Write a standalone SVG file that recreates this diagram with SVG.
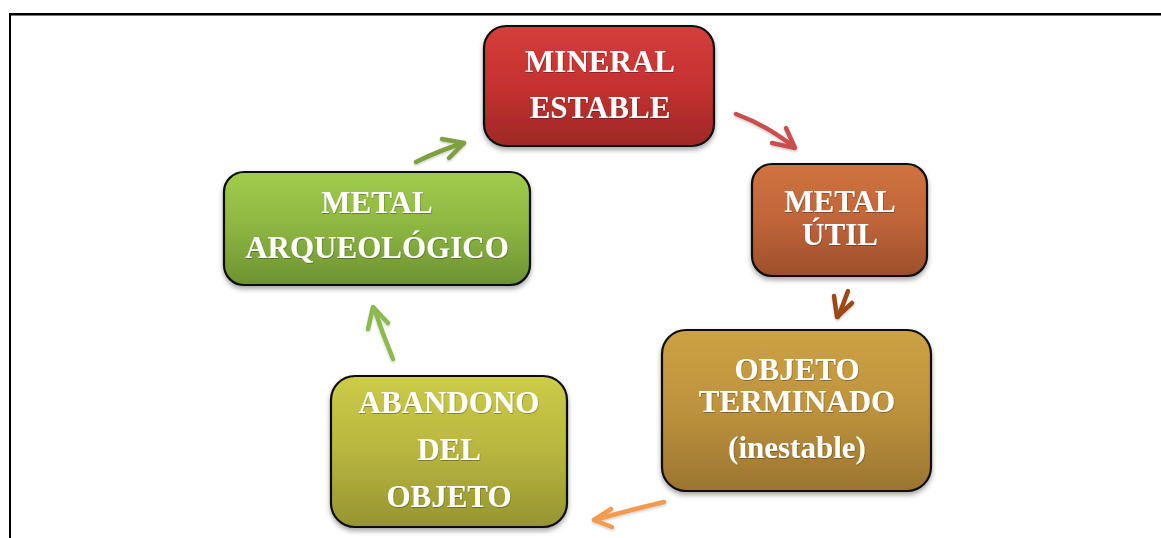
<svg xmlns="http://www.w3.org/2000/svg" width="1161" height="538" viewBox="0 0 1161 538">
<style>
.box{stroke:#111;stroke-width:2.2;filter:url(#sh)}
.t{font-family:"Liberation Serif","Times New Roman",serif;font-weight:bold;font-size:31px;fill:#fff;text-anchor:middle;filter:url(#tsh)}
.arr{fill:none;stroke-width:4.5;stroke-linecap:round;stroke-linejoin:round}
</style>
<defs>
<filter id="sh" x="-10%" y="-10%" width="120%" height="130%"><feDropShadow dx="0" dy="3" stdDeviation="2.5" flood-color="#000" flood-opacity="0.35"/></filter>
<filter id="tsh" x="-10%" y="-20%" width="120%" height="150%"><feDropShadow dx="0.6" dy="1" stdDeviation="0.6" flood-color="#000" flood-opacity="0.3"/></filter>
<filter id="ash" x="-20%" y="-20%" width="140%" height="150%"><feDropShadow dx="0" dy="1.5" stdDeviation="1" flood-color="#000" flood-opacity="0.2"/></filter>
<linearGradient id="gRed" x1="0" y1="0" x2="0" y2="1"><stop offset="0" stop-color="#d43e3b"/><stop offset="0.5" stop-color="#c5312f"/><stop offset="1" stop-color="#9e2827"/></linearGradient>
<linearGradient id="gOr" x1="0" y1="0" x2="0" y2="1"><stop offset="0" stop-color="#d0733f"/><stop offset="0.5" stop-color="#c0653a"/><stop offset="1" stop-color="#9c4f2a"/></linearGradient>
<linearGradient id="gGold" x1="0" y1="0" x2="0" y2="1"><stop offset="0" stop-color="#cda244"/><stop offset="0.5" stop-color="#bd923d"/><stop offset="1" stop-color="#9b7530"/></linearGradient>
<linearGradient id="gGreen" x1="0" y1="0" x2="0" y2="1"><stop offset="0" stop-color="#a2cc4c"/><stop offset="0.5" stop-color="#8cb541"/><stop offset="1" stop-color="#6c9232"/></linearGradient>
<linearGradient id="gOl" x1="0" y1="0" x2="0" y2="1"><stop offset="0" stop-color="#cdcb48"/><stop offset="0.5" stop-color="#b8b63f"/><stop offset="1" stop-color="#959431"/></linearGradient>
</defs>
<rect width="1161" height="538" fill="#fff"/>
<g id="frame">
<line x1="9" y1="15.5" x2="1161" y2="15.5" stroke="#777" stroke-width="1"/>
<line x1="9" y1="14" x2="1161" y2="14" stroke="#000" stroke-width="2"/>
<line x1="10" y1="13" x2="10" y2="538" stroke="#000" stroke-width="2"/>
</g>
<g id="connectors">
<g filter="url(#ash)">
<path class="arr" stroke="#c9504f" d="M736,114 Q768,126 794,147"/>
<path class="arr" stroke="#c9504f" d="M772,143 L795,148 L786,128"/>
<path class="arr" stroke="#9b4a17" d="M848,291 Q843,305 838,317"/>
<path class="arr" stroke="#9b4a17" d="M834,296 L837,317 L852,303"/>
<path class="arr" stroke="#f29b50" d="M664,502 Q630,510 594,520"/>
<path class="arr" stroke="#f29b50" d="M611,509 L594,520 L612,527"/>
<path class="arr" stroke="#8db950" d="M393,359 Q383,335 374,308"/>
<path class="arr" stroke="#8db950" d="M368,329 L373,307 L388,323"/>
<path class="arr" stroke="#7ea040" d="M416,162 Q440,150 464,143"/>
<path class="arr" stroke="#7ea040" d="M442,139 L464,143 L449,158"/>
</g>
</g>
<g id="mineral">
<rect class="box" x="484" y="26" width="230" height="120" rx="22" fill="url(#gRed)"/>
<text class="t" x="600" y="72">MINERAL</text>
<text class="t" x="600" y="118">ESTABLE</text>
</g>
<g id="metal-util">
<rect class="box" x="752" y="164" width="175" height="112" rx="20" fill="url(#gOr)"/>
<text class="t" x="840" y="212">METAL</text>
<text class="t" x="840" y="245">ÚTIL</text>
</g>
<g id="objeto-terminado">
<rect class="box" x="662" y="330" width="269" height="161" rx="24" fill="url(#gGold)"/>
<text class="t" x="797" y="380">OBJETO</text>
<text class="t" x="797" y="412">TERMINADO</text>
<text class="t" x="797" y="458">(inestable)</text>
</g>
<g id="abandono">
<rect class="box" x="331" y="376" width="236" height="151" rx="24" fill="url(#gOl)"/>
<text class="t" x="449" y="413">ABANDONO</text>
<text class="t" x="449" y="460">DEL</text>
<text class="t" x="449" y="507">OBJETO</text>
</g>
<g id="metal-arqueologico">
<rect class="box" x="224" y="172" width="306" height="113" rx="20" fill="url(#gGreen)"/>
<text class="t" x="377" y="213">METAL</text>
<text class="t" x="377" y="258">ARQUEOLÓGICO</text>
</g>
</svg>
